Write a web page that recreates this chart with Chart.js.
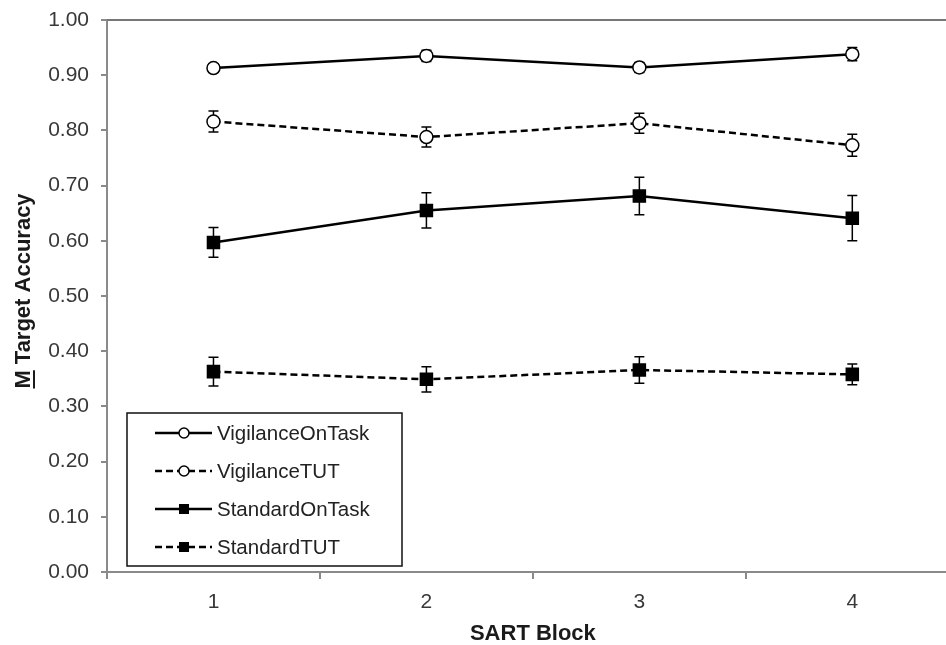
<!DOCTYPE html>
<html>
<head>
<meta charset="utf-8">
<script src="https://cdn.jsdelivr.net/npm/chart.js@4.4.1/dist/chart.umd.min.js"></script>
<style>
  body { margin: 0; background: #fff; }
  #wrap { width: 946px; height: 645px; position: relative; }
</style>
</head>
<body>
<div id="wrap"><canvas id="chart"></canvas></div>
<script>
// SART blocks (x categories)
const blocks = [1, 2, 3, 4];
const yTicks = [0, 0.1, 0.2, 0.3, 0.4, 0.5, 0.6, 0.7, 0.8, 0.9, 1.0];

// Series means
const vigilanceOnTask = [0.913, 0.935, 0.914, 0.938];
const vigilanceTUT = [0.816, 0.788, 0.813, 0.773];
const standardOnTask = [0.597, 0.655, 0.681, 0.641];
const standardTUT = [0.363, 0.349, 0.366, 0.358];

// Error bar half-widths
const vigilanceOnTaskErr = [0.007, 0.010, 0.009, 0.012];
const vigilanceTUTErr = [0.019, 0.018, 0.018, 0.020];
const standardOnTaskErr = [0.027, 0.032, 0.034, 0.041];
const standardTUTErr = [0.026, 0.023, 0.024, 0.019];

const seriesNames = ['VigilanceOnTask', 'VigilanceTUT', 'StandardOnTask', 'StandardTUT'];

function toPoints(vals) {
  return blocks.map((b, i) => ({ x: b, y: vals[i] }));
}

function makeDataset(label, vals, errs, dashed, square) {
  return {
    label: label,
    data: toPoints(vals),
    errors: errs,
    borderColor: '#000',
    borderWidth: 2.5,
    borderDash: dashed ? [7, 4] : [],
    pointStyle: square ? 'rect' : 'circle',
    pointRadius: square ? 8.5 : 6.5,
    pointBackgroundColor: square ? '#000' : '#fff',
    pointBorderColor: '#000',
    pointBorderWidth: 1.5,
    tension: 0,
    fill: false
  };
}

const axisGray = '#8a8a8a';
const labelColor = '#383838';
const fontFamily = '"Liberation Sans", Arial, sans-serif';

// Error bars drawn under the markers
const errorBarPlugin = {
  id: 'errorBars',
  beforeDatasetsDraw(chart) {
    const ctx = chart.ctx;
    const yScale = chart.scales.y;
    chart.data.datasets.forEach((ds, i) => {
      const meta = chart.getDatasetMeta(i);
      ctx.save();
      ctx.strokeStyle = '#000';
      ctx.lineWidth = 1.5;
      meta.data.forEach((pt, j) => {
        const v = ds.data[j].y;
        const e = ds.errors[j];
        const top = yScale.getPixelForValue(v + e);
        const bot = yScale.getPixelForValue(v - e);
        ctx.beginPath();
        ctx.moveTo(pt.x, top);
        ctx.lineTo(pt.x, bot);
        ctx.moveTo(pt.x - 5, top);
        ctx.lineTo(pt.x + 5, top);
        ctx.moveTo(pt.x - 5, bot);
        ctx.lineTo(pt.x + 5, bot);
        ctx.stroke();
      });
      ctx.restore();
    });
  }
};

// Frame, x tick marks, axis titles and boxed legend
const decorPlugin = {
  id: 'decor',
  afterDraw(chart) {
    const ctx = chart.ctx;
    const area = chart.chartArea;
    const xScale = chart.scales.x;
    ctx.save();

    // top border
    ctx.strokeStyle = '#777';
    ctx.lineWidth = 2;
    ctx.beginPath();
    ctx.moveTo(area.left, area.top);
    ctx.lineTo(area.right, area.top);
    ctx.stroke();

    // x tick marks between blocks
    ctx.strokeStyle = axisGray;
    [0.5, 1.5, 2.5, 3.5].forEach(v => {
      const x = Math.round(xScale.getPixelForValue(v));
      ctx.beginPath();
      ctx.moveTo(x, area.bottom);
      ctx.lineTo(x, area.bottom + 7);
      ctx.stroke();
    });

    // x title
    ctx.fillStyle = '#1a1a1a';
    ctx.font = 'bold 22px ' + fontFamily;
    ctx.textAlign = 'center';
    ctx.textBaseline = 'middle';
    ctx.fillText('SART Block', xScale.getPixelForValue(2.5), 634);

    // y title with underlined M
    ctx.save();
    ctx.translate(24, 291);
    ctx.rotate(-Math.PI / 2);
    ctx.font = 'bold 22px ' + fontFamily;
    const title = 'M Target Accuracy';
    const w = ctx.measureText(title).width;
    const mw = ctx.measureText('M').width;
    ctx.fillText(title, 0, 0);
    ctx.strokeStyle = '#1a1a1a';
    ctx.lineWidth = 2;
    ctx.beginPath();
    ctx.moveTo(-w / 2, 10);
    ctx.lineTo(-w / 2 + mw, 10);
    ctx.stroke();
    ctx.restore();

    // legend box
    const box = { left: 127, top: 413, right: 402, bottom: 566 };
    ctx.fillStyle = '#fff';
    ctx.fillRect(box.left, box.top, box.right - box.left, box.bottom - box.top);
    ctx.strokeStyle = '#111';
    ctx.lineWidth = 1.5;
    ctx.strokeRect(box.left, box.top, box.right - box.left, box.bottom - box.top);

    const rowsY = [433, 471, 509, 547];
    ctx.font = '20.5px ' + fontFamily;
    ctx.textAlign = 'left';
    chart.data.datasets.forEach((ds, i) => {
      const y = rowsY[i];
      ctx.strokeStyle = '#000';
      ctx.lineWidth = 2.5;
      ctx.setLineDash(ds.borderDash);
      ctx.beginPath();
      ctx.moveTo(155, y);
      ctx.lineTo(212, y);
      ctx.stroke();
      ctx.setLineDash([]);
      ctx.lineWidth = 1.5;
      if (ds.pointStyle === 'rect') {
        ctx.fillStyle = '#000';
        ctx.fillRect(179, y - 5, 10, 10);
      } else {
        ctx.fillStyle = '#fff';
        ctx.beginPath();
        ctx.arc(184, y, 5, 0, Math.PI * 2);
        ctx.fill();
        ctx.stroke();
      }
      ctx.fillStyle = '#222';
      ctx.fillText(ds.label, 217, y + 1);
    });

    ctx.restore();
  }
};

const ctx = document.getElementById('chart').getContext('2d');
const chart = new Chart(ctx, {
  type: 'line',
  data: {
    datasets: [
      makeDataset(seriesNames[0], vigilanceOnTask, vigilanceOnTaskErr, false, false),
      makeDataset(seriesNames[1], vigilanceTUT, vigilanceTUTErr, true, false),
      makeDataset(seriesNames[2], standardOnTask, standardOnTaskErr, false, true),
      makeDataset(seriesNames[3], standardTUT, standardTUTErr, true, true)
    ]
  },
  options: {
    responsive: true,
    maintainAspectRatio: false,
    animation: false,
    layout: { autoPadding: false, padding: { top: 20, right: 0, bottom: 0, left: 0 } },
    plugins: {
      legend: { display: false },
      tooltip: { enabled: false }
    },
    scales: {
      x: {
        type: 'linear',
        min: 0.5,
        max: 4.44,
        afterBuildTicks: scale => { scale.ticks = blocks.map(v => ({ value: v })); },
        afterFit: scale => {
          scale.height = 73;
          scale.paddingLeft = 0;
          scale.paddingRight = 0;
        },
        grid: { display: false },
        border: { display: true, color: axisGray, width: 2 },
        ticks: {
          color: labelColor,
          font: { family: fontFamily, size: 21 },
          padding: 10,
          maxRotation: 0,
          callback: v => String(v)
        }
      },
      y: {
        min: 0,
        max: 1,
        afterBuildTicks: scale => { scale.ticks = yTicks.map(v => ({ value: v })); },
        afterFit: scale => {
          scale.width = 107;
          scale.paddingTop = 0;
          scale.paddingBottom = 0;
        },
        grid: { display: true, drawOnChartArea: false, drawTicks: true, tickLength: 6, color: axisGray, lineWidth: 2 },
        border: { display: true, color: axisGray, width: 2 },
        ticks: {
          color: labelColor,
          font: { family: fontFamily, size: 21 },
          padding: 12,
          callback: v => Number(v).toFixed(2)
        }
      }
    }
  },
  plugins: [errorBarPlugin, decorPlugin]
});
</script>
</body>
</html>
